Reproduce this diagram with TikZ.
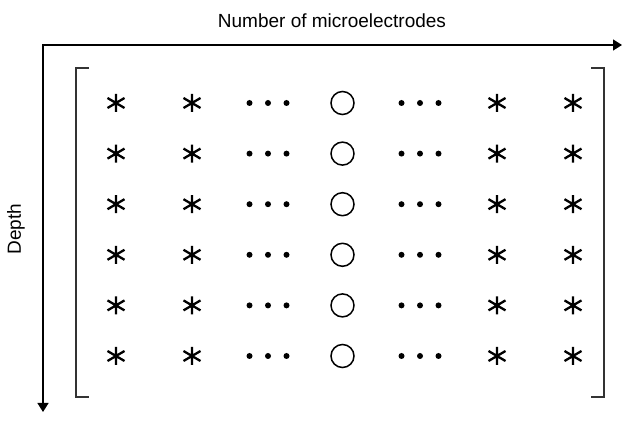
\documentclass[tikz,border=0pt]{standalone}
\usepackage{fontspec}
\setmainfont{Liberation Sans}
\usetikzlibrary{arrows.meta}
\begin{document}
\begin{tikzpicture}[x=1pt,y=-1pt,
  axis/.style={line width=1.3pt,{Triangle[length=9pt,width=11pt]}-{Triangle[length=9pt,width=11pt]}},
  brk/.style={line width=1.8pt,draw=black!80},
  lbl/.style={font=\fontsize{19}{21}\selectfont,inner sep=0pt},
  astnode/.style={minimum size=19pt,inner sep=0pt,
    path picture={\draw[line width=2.3pt]
      ([yshift=9pt]path picture bounding box.center) -- ([yshift=-9pt]path picture bounding box.center)
      ([xshift=-8.5pt,yshift=5pt]path picture bounding box.center) -- ([xshift=8.5pt,yshift=-5pt]path picture bounding box.center)
      ([xshift=-8.5pt,yshift=-5pt]path picture bounding box.center) -- ([xshift=8.5pt,yshift=5pt]path picture bounding box.center);}},
  dotnode/.style={circle,fill=black,minimum size=6pt,inner sep=0pt},
  ringnode/.style={circle,draw=black,line width=1.5pt,minimum size=23pt,inner sep=0pt}]
\useasboundingbox (0,0) rectangle (622,435);
% axes
\coordinate (O) at (43,45);
\coordinate (X) at (622,45);
\coordinate (Y) at (43,412);
\draw[axis] (Y) -- (O) -- (X);
\node[lbl] (xlabel) at (332,21) {Number of microelectrodes};
\node[lbl,rotate=90] (ylabel) at (16,229) {Depth};
% brackets
\coordinate (L1) at (89,68); \coordinate (L2) at (76,68);
\coordinate (L3) at (76,397); \coordinate (L4) at (89,397);
\coordinate (R1) at (591,68); \coordinate (R2) at (604,68);
\coordinate (R3) at (604,397); \coordinate (R4) at (591,397);
\draw[brk] (L1) -- (L2) -- (L3) -- (L4);
\draw[brk] (R1) -- (R2) -- (R3) -- (R4);
% matrix entries
\foreach \r [count=\i] in {103,153.6,204.2,254.8,305.4,356}{
  \node[astnode] (a1-\i) at (116,\r) {};
  \node[astnode] (a2-\i) at (192,\r) {};
  \node[dotnode] (d1a-\i) at (249.5,\r) {};
  \node[dotnode] (d1b-\i) at (268,\r) {};
  \node[dotnode] (d1c-\i) at (286.5,\r) {};
  \node[ringnode] (c-\i) at (342.5,\r) {};
  \node[dotnode] (d2a-\i) at (401.5,\r) {};
  \node[dotnode] (d2b-\i) at (420,\r) {};
  \node[dotnode] (d2c-\i) at (438.5,\r) {};
  \node[astnode] (a3-\i) at (497,\r) {};
  \node[astnode] (a4-\i) at (573,\r) {};
}
\end{tikzpicture}
\end{document}
